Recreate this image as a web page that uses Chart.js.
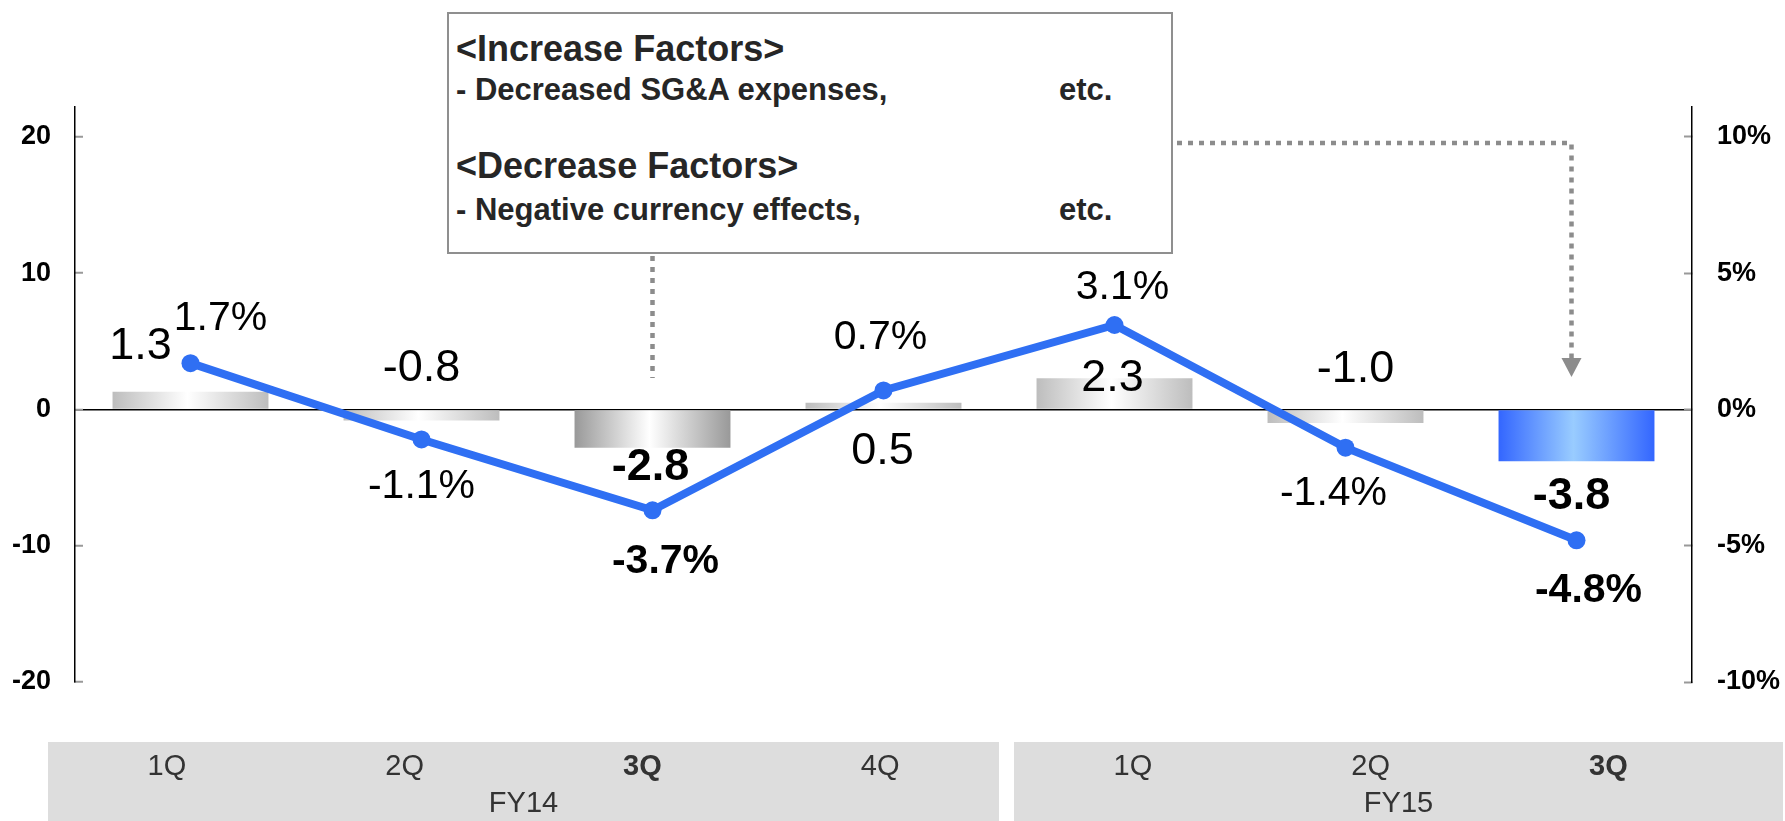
<!DOCTYPE html>
<html>
<head>
<meta charset="utf-8">
<script src="https://cdn.jsdelivr.net/npm/chart.js@4"></script>
<style>
  html, body { margin: 0; padding: 0; background: #fff; }
  #wrap { position: relative; width: 1785px; height: 821px; }
  #note {
    position: absolute; left: 447px; top: 12px; width: 722px; height: 238px;
    border: 2px solid #8f8f8f; background: #fff;
    font-family: "Liberation Sans", Arial, sans-serif; font-weight: bold; color: #262626;
  }
  #note div { position: absolute; white-space: nowrap; line-height: 1; }
  .h { font-size: 36px; left: 7px; }
  .i { font-size: 31px; left: 7px; }
  .etc { font-size: 31px; left: 610px; }
</style>
</head>
<body>
<div id="wrap">
  <canvas id="chart" width="1785" height="821"></canvas>
  <div id="note">
    <div class="h" style="top:17px">&lt;Increase Factors&gt;</div>
    <div class="i" style="top:60px">- Decreased SG&amp;A expenses,</div>
    <div class="etc" style="top:60px">etc.</div>
    <div class="h" style="top:134px">&lt;Decrease Factors&gt;</div>
    <div class="i" style="top:180px">- Negative currency effects,</div>
    <div class="etc" style="top:180px">etc.</div>
  </div>
</div>
<script>
// data
const quarters = ['1Q', '2Q', '3Q', '4Q', '1Q', '2Q', '3Q'];
const fiscalYears = ['FY14', 'FY15'];
const yearSpans = [4, 3];
const profitChange = [1.3, -0.8, -2.8, 0.5, 2.3, -1.0, -3.8];
const marginChange = [1.7, -1.1, -3.7, 0.7, 3.1, -1.4, -4.8];
const leftTicks = [-20, -10, 0, 10, 20];
const rightTicks = [-10, -5, 0, 5, 10];
const highlight = [false, false, true, false, false, false, true];

// styling
const FONT = '"Liberation Sans", Arial, sans-serif';
const BAR_PCT = 0.675;
const barEdge = ['#bdbdbd', '#bdbdbd', '#999999', '#bdbdbd', '#bdbdbd', '#bdbdbd', '#3366ff'];
const barMid  = ['#ffffff', '#ffffff', '#ffffff', '#ffffff', '#ffffff', '#ffffff', '#99ccff'];
const barLabelOffset  = [[-50, -45], [0, -52], [-2, 20], [-1, 49], [-2, 0], [10, -54], [-5, 35]];
const lineLabelOffset = [[30, -44], [0, 47], [13, 51], [-3, -53], [8, -37], [-12, 46], [12, 50]];

Chart.defaults.font.family = FONT;
Chart.defaults.animation = false;

function barFill(c) {
  const chart = c.chart;
  const xs = chart.scales.x;
  if (!xs || c.dataIndex === undefined || !xs.width) return barEdge[0];
  const cx = xs.getPixelForValue(c.dataIndex);
  const w = xs.width / quarters.length * BAR_PCT;
  const g = chart.ctx.createLinearGradient(cx - w / 2, 0, cx + w / 2, 0);
  g.addColorStop(0, barEdge[c.dataIndex]);
  g.addColorStop(0.48, barMid[c.dataIndex]);
  g.addColorStop(1, barEdge[c.dataIndex]);
  return g;
}

// value labels next to bars and points
const valueLabels = {
  id: 'valueLabels',
  afterDatasetsDraw(chart) {
    const ctx = chart.ctx;
    ctx.save();
    ctx.textAlign = 'center';
    ctx.textBaseline = 'middle';
    ctx.fillStyle = '#000';
    chart.getDatasetMeta(0).data.forEach((el, i) => {
      ctx.font = (highlight[i] ? 'bold ' : '') + '45px ' + FONT;
      ctx.fillText(profitChange[i].toFixed(1), el.x + barLabelOffset[i][0], el.y + barLabelOffset[i][1]);
    });
    chart.getDatasetMeta(1).data.forEach((el, i) => {
      ctx.font = (highlight[i] ? 'bold ' : '') + '41px ' + FONT;
      ctx.fillText(marginChange[i].toFixed(1) + '%', el.x + lineLabelOffset[i][0], el.y + lineLabelOffset[i][1]);
    });
    ctx.restore();
  }
};

// grey period table under the plot
const periodTable = {
  id: 'periodTable',
  beforeDraw(chart) {
    const ctx = chart.ctx;
    const xs = chart.scales.x;
    const area = chart.chartArea;
    const split = (xs.getPixelForValue(3) + xs.getPixelForValue(4)) / 2;
    const boxes = [
      [area.left - 27, split],
      [split + 15, chart.width - 2]
    ];
    const top = area.bottom + 60;
    const colW = (boxes[0][1] - boxes[0][0]) / yearSpans[0];
    ctx.save();
    ctx.fillStyle = '#fff';
    ctx.fillRect(0, 0, chart.width, chart.height);
    let q = 0;
    boxes.forEach((b, k) => {
      ctx.fillStyle = '#dddddd';
      ctx.fillRect(b[0], top, b[1] - b[0], chart.height - top);
      ctx.fillStyle = '#333';
      ctx.textAlign = 'center';
      ctx.textBaseline = 'middle';
      for (let j = 0; j < yearSpans[k]; j++, q++) {
        ctx.font = (highlight[q] ? 'bold ' : '') + '29px ' + FONT;
        ctx.fillText(quarters[q], b[0] + colW * (j + 0.5), top + 25);
      }
      ctx.font = '29px ' + FONT;
      ctx.fillText(fiscalYears[k], (b[0] + b[1]) / 2, top + 62);
    });
    ctx.restore();
  },
  afterDraw(chart) {
    // dotted connectors from the note box
    const ctx = chart.ctx;
    const xs = chart.scales.x;
    const xa = xs.getPixelForValue(2);
    const xb = xs.getPixelForValue(6);
    ctx.save();
    ctx.strokeStyle = '#8c8c8c';
    ctx.fillStyle = '#8c8c8c';
    ctx.lineWidth = 4.5;
    ctx.setLineDash([5, 6]);
    ctx.beginPath();
    ctx.moveTo(xa, 256);
    ctx.lineTo(xa, 378);
    ctx.stroke();
    ctx.beginPath();
    ctx.moveTo(1177, 143);
    ctx.lineTo(xb - 5, 143);
    ctx.lineTo(xb - 5, 358);
    ctx.stroke();
    ctx.setLineDash([]);
    ctx.beginPath();
    ctx.moveTo(xb - 15, 358);
    ctx.lineTo(xb + 5, 358);
    ctx.lineTo(xb - 5, 377);
    ctx.closePath();
    ctx.fill();
    ctx.restore();
  }
};

new Chart(document.getElementById('chart'), {
  type: 'bar',
  data: {
    labels: quarters,
    datasets: [{
      type: 'bar',
      data: profitChange,
      yAxisID: 'y',
      order: 2,
      backgroundColor: barFill,
      borderWidth: 0,
      barPercentage: BAR_PCT,
      categoryPercentage: 1
    }, {
      type: 'line',
      data: marginChange,
      yAxisID: 'y1',
      order: 1,
      borderColor: '#2f6ff3',
      backgroundColor: '#2f6ff3',
      borderWidth: 8,
      pointRadius: 9,
      pointBorderWidth: 0,
      pointBackgroundColor: '#2f6ff3',
      tension: 0
    }]
  },
  options: {
    responsive: false,
    devicePixelRatio: 1,
    layout: { padding: { top: 107, bottom: 139, left: 0, right: 0 } },
    plugins: { legend: { display: false }, tooltip: { enabled: false } },
    scales: {
      x: { display: false, offset: true },
      y: {
        position: 'left',
        min: -20, max: 22.2,
        afterBuildTicks: s => { s.ticks = leftTicks.map(v => ({ value: v })); },
        afterFit: s => { s.width = 75; },
        ticks: { color: '#000', padding: 32, font: { size: 27, weight: 'bold' } },
        grid: {
          color: c => (c.tick && c.tick.value === 0) ? '#000' : 'rgba(0,0,0,0)',
          lineWidth: 1.5, tickColor: '#999', tickLength: -8, tickWidth: 2
        },
        border: { color: '#000', width: 1.5 }
      },
      y1: {
        position: 'right',
        min: -10, max: 11.1,
        afterBuildTicks: s => { s.ticks = rightTicks.map(v => ({ value: v })); },
        afterFit: s => { s.width = 93; },
        ticks: { color: '#000', padding: 33, font: { size: 27, weight: 'bold' }, callback: v => v + '%' },
        grid: { drawOnChartArea: false, tickColor: '#999', tickLength: -8, tickWidth: 2 },
        border: { color: '#000', width: 1.5 }
      }
    }
  },
  plugins: [periodTable, valueLabels]
});
</script>
</body>
</html>
